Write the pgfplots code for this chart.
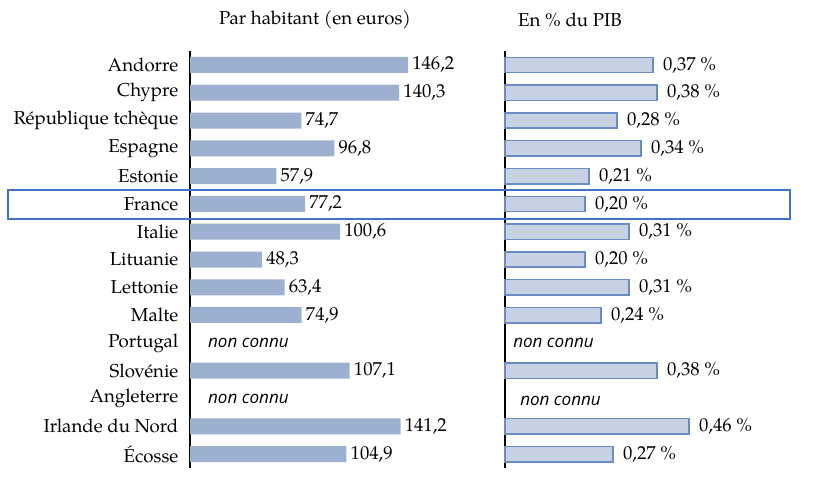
\documentclass[border=0pt]{standalone}
\usepackage{fontspec}
\setmainfont{TeX Gyre Pagella}
\newfontfamily\ncfont{Open Sans}
\usepackage{pgfplots}
\pgfplotsset{compat=1.18}

\definecolor{barA}{HTML}{9DB0CF}
\definecolor{barB}{HTML}{C6D1E4}
\definecolor{edgeB}{HTML}{6B8CC2}
\definecolor{hl}{HTML}{4472C4}

% row index: 0 = Andorre ... 14 = Ecosse (Portugal 10, Angleterre 12 unknown)
\pgfplotstableread{
val row
146.2 0
140.3 1
74.7 2
96.8 3
57.9 4
77.2 5
100.6 6
48.3 7
63.4 8
74.9 9
107.1 11
141.2 13
104.9 14
}\perhab
\pgfplotstableread{
val row
0.37 0
0.38 1
0.28 2
0.34 3
0.21 4
0.20 5
0.31 6
0.20 7
0.31 8
0.24 9
0.38 11
0.46 13
0.27 14
}\pib

\newcommand\nonconnu{\ncfont\fontsize{12.8}{14}\selectfont\itshape non connu}

\pgfplotsset{
  panel/.style={
    xbar, scale only axis, anchor=north west,
    y dir=reverse, ymin=-0.5, ymax=14.5, xmin=0,
    enlarge x limits=false, enlarge y limits=false,
    axis x line=none, axis y line*=left,
    y axis line style={line width=1.5pt},
    xtick=\empty, major tick length=0pt,
    clip=false, point meta=x,
    /pgf/number format/assume math mode=true,
    every node near coord/.append style={anchor=west, inner sep=0pt},
  },
}

\begin{document}
\begin{tikzpicture}[font=\fontsize{14}{16}\selectfont]
\useasboundingbox (0,0) rectangle (609.75pt,-377.25pt);

\node at (236.25pt,-15pt) {Par habitant (en euros)};
\node at (427.5pt,-15pt) {En \% du PIB};

\begin{axis}[panel,
  at={(142.5pt,-38.25pt)}, width=225pt, height=312.75pt, xmax=201.2,
  bar width=12pt,
  ytick={0,...,14},
  yticklabels={Andorre, Chypre, République tchèque, Espagne, Estonie, France,
    Italie, Lituanie, Lettonie, Malte, Portugal, Slovénie, Angleterre,
    Irlande du Nord, Écosse},
  yticklabel style={inner sep=0pt, xshift=-8.5pt},
  nodes near coords={\pgfmathprintnumber[fixed,fixed zerofill,precision=1,use comma]{\pgfplotspointmeta}},
  every node near coord/.append style={xshift=3pt},
]
\addplot[fill=barA, draw=none] table[x=val, y=row] {\perhab};
\node[anchor=west, inner sep=0pt] at (axis cs:12,10) {\nonconnu};
\node[anchor=west, inner sep=0pt] at (axis cs:12,12) {\nonconnu};
\end{axis}

\begin{axis}[panel,
  at={(378.75pt,-38.25pt)}, width=187.5pt, height=312.75pt, xmax=0.625,
  bar width=11.5pt, ytick=\empty,
  nodes near coords={\pgfmathprintnumber[fixed,fixed zerofill,precision=2,use comma]{\pgfplotspointmeta}\ \%},
  every node near coord/.append style={xshift=7pt},
]
\addplot[fill=barB, draw=edgeB, line width=1.1pt] table[x=val, y=row] {\pib};
\node[anchor=west, inner sep=0pt] at (axis cs:0.02,10) {\nonconnu};
\node[anchor=west, inner sep=0pt] at (axis cs:0.0375,12.1) {\nonconnu};
\end{axis}

\draw[hl, line width=1.1pt] (6pt,-142.5pt) rectangle (592.5pt,-164.25pt);
\end{tikzpicture}
\end{document}
